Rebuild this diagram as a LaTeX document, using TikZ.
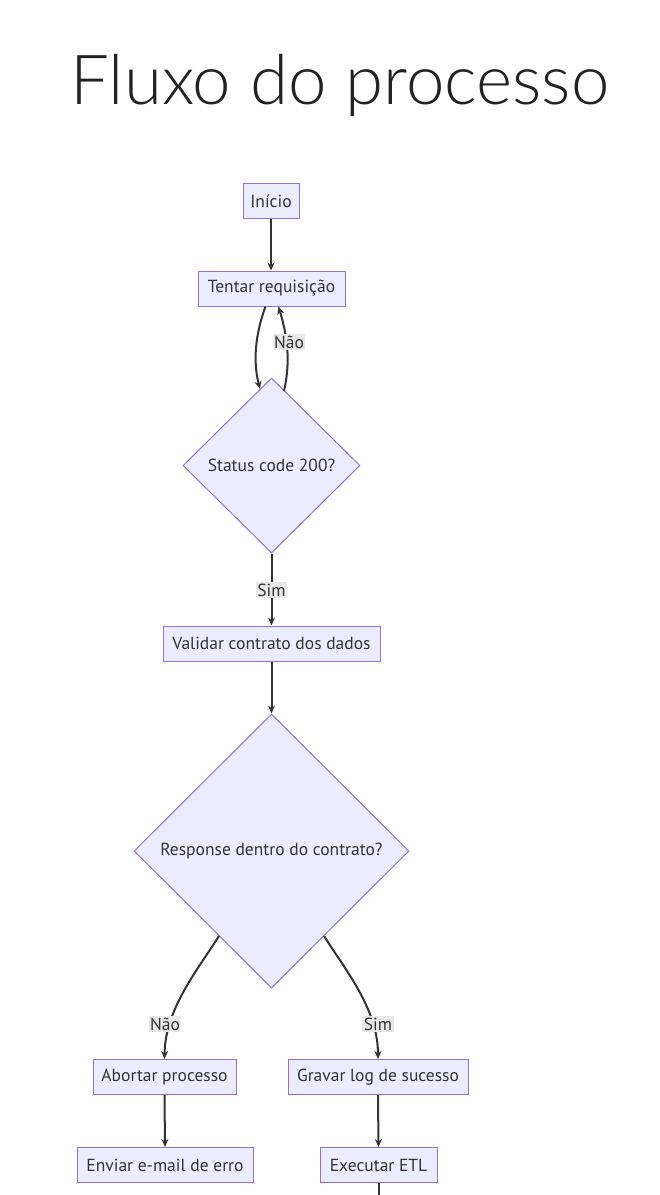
\documentclass[tikz,border=0pt]{standalone}
\usepackage{fontspec}
\setmainfont{PT Sans}
\newfontfamily\titlefont{Lato Light}
\usetikzlibrary{shapes.geometric,arrows.meta}
\definecolor{nodefill}{HTML}{ECECFF}
\definecolor{nodeline}{HTML}{9370DB}
\definecolor{edgecol}{HTML}{333333}
\definecolor{lblbg}{HTML}{E8E8E8}
\definecolor{titlecol}{HTML}{222222}
\tikzset{
  procbox/.style={draw=nodeline, fill=nodefill, line width=1pt, rectangle, minimum height=35pt, inner xsep=6pt, text=edgecol, font=\fontsize{17.5}{20}\selectfont},
  decbox/.style={draw=nodeline, fill=nodefill, line width=1pt, diamond, inner sep=0pt, text=edgecol, font=\fontsize{17.5}{20}\selectfont},
  flow/.style={draw=edgecol, line width=2pt, -{Stealth[length=8pt,width=7pt]}},
  plainflow/.style={draw=edgecol, line width=2pt},
  elabel/.style={fill=lblbg, inner sep=1.5pt, text=edgecol, font=\fontsize{17.5}{20}\selectfont}
}
\begin{document}
\begin{tikzpicture}[x=1pt,y=-1pt]
\useasboundingbox (0,0) rectangle (660,1195);
\node[text=titlecol, font=\titlefont\fontsize{69}{76}\selectfont] (title) at (340,85) {Fluxo do processo};

\node[procbox, minimum width=56pt] (inicio) at (271,201) {Início};
\node[procbox, minimum width=147pt] (tentar) at (271.5,288.5) {Tentar requisição};
\node[decbox, minimum width=177pt, minimum height=175pt] (status) at (271.5,465.5) {Status code 200?};
\node[procbox, minimum width=217pt] (validar) at (271.5,643.5) {Validar contrato dos dados};
\node[decbox, minimum width=275pt, minimum height=274pt] (resp) at (271.5,851) {Response dentro do contrato?};
\node[procbox, minimum width=143pt] (abortar) at (164.5,1077) {Abortar processo};
\node[procbox, minimum width=180pt] (gravar) at (378,1077) {Gravar log de sucesso};
\node[procbox, minimum width=176pt] (enviar) at (165,1165) {Enviar e-mail de erro};
\node[procbox, minimum width=117pt] (etl) at (378.5,1165) {Executar ETL};
\coordinate (cont) at (378.5,1196);

\draw[flow] (inicio.south) -- (tentar.north -| inicio.south);
\draw[flow] ([xshift=-6pt]tentar.south) .. controls (255,335) and (253,362) .. (260,389);
\draw[flow] (284,391) .. controls (291,360) and (287,335) .. ([xshift=7pt]tentar.south);
\node[elabel] (lnao1) at (289,342) {Não};
\draw[flow] (status.south) -- (validar.north);
\node[elabel] (lsim1) at (271.5,590) {Sim};
\draw[flow] (validar.south) -- (resp.north);
\draw[flow] (219,936) .. controls (196,972) and (165,1010) .. (abortar.north);
\draw[flow] (324,936) .. controls (347,972) and (378,1010) .. (gravar.north);
\node[elabel] (lnao2) at (165,1024) {Não};
\node[elabel] (lsim2) at (378,1024) {Sim};
\draw[flow] (abortar.south) -- (enviar.north);
\draw[flow] (gravar.south) -- (etl.north);
\draw[plainflow] (etl.south) -- (cont);
\end{tikzpicture}
\end{document}
